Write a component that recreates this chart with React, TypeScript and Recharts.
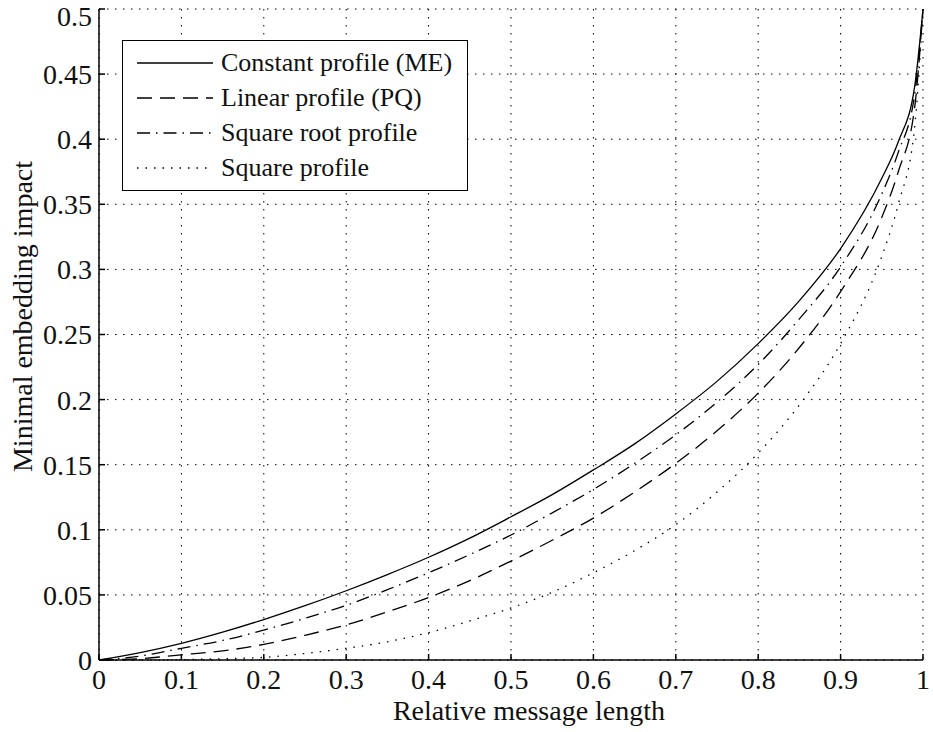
import {
  CartesianGrid,
  Legend,
  Line,
  LineChart,
  XAxis,
  YAxis,
} from "recharts";

// relative message length
const alpha = [
  0, 0.05, 0.1, 0.15, 0.2, 0.25, 0.3, 0.35, 0.4, 0.45, 0.5, 0.55, 0.6, 0.65,
  0.7, 0.75, 0.8, 0.85, 0.9, 0.95, 0.97, 0.99, 1,
];

// minimal embedding impact
const constantME = [
  0, 0.0057, 0.0128, 0.0214, 0.0311, 0.0417, 0.0532, 0.0656, 0.0789, 0.0936,
  0.11, 0.127, 0.146, 0.166, 0.189, 0.214, 0.243, 0.276, 0.316, 0.37, 0.398,
  0.441, 0.5,
];
const linearPQ = [
  0, 0.001, 0.004, 0.007, 0.012, 0.019, 0.027, 0.037, 0.048, 0.061, 0.076,
  0.092, 0.109, 0.129, 0.151, 0.176, 0.205, 0.24, 0.283, 0.34, 0.375, 0.425,
  0.5,
];
const sqrtProfile = [
  0, 0.003, 0.009, 0.015, 0.023, 0.032, 0.042, 0.054, 0.067, 0.081, 0.096,
  0.113, 0.131, 0.151, 0.173, 0.198, 0.227, 0.262, 0.302, 0.358, 0.39, 0.435,
  0.5,
];
const squareProfile = [
  0, 0, 0.0003, 0.001, 0.002, 0.005, 0.009, 0.014, 0.021, 0.03, 0.04, 0.052,
  0.067, 0.084, 0.104, 0.129, 0.159, 0.196, 0.243, 0.31, 0.35, 0.41, 0.5,
];

const xTicks = [0, 0.1, 0.2, 0.3, 0.4, 0.5, 0.6, 0.7, 0.8, 0.9, 1];
const yTicks = [0, 0.05, 0.1, 0.15, 0.2, 0.25, 0.3, 0.35, 0.4, 0.45, 0.5];

const series = [
  { key: "me", name: "Constant profile (ME)", dash: undefined },
  { key: "pq", name: "Linear profile (PQ)", dash: "15 8" },
  { key: "sqrt", name: "Square root profile", dash: "13 6 1.5 6" },
  { key: "sq", name: "Square profile", dash: "1.5 7" },
];

const data = alpha.map((x, i) => ({
  x,
  me: constantME[i],
  pq: linearPQ[i],
  sqrt: sqrtProfile[i],
  sq: squareProfile[i],
}));

const FONT = '"Liberation Serif", "DejaVu Serif", serif';
const fmt = (v: number) => String(v);

function LegendBox() {
  return (
    <div
      style={{
        width: 346,
        height: 151,
        boxSizing: "border-box",
        border: "1.5px solid #000",
        background: "#fff",
        fontFamily: FONT,
        fontSize: 26,
        color: "#111",
        paddingTop: 4,
      }}
    >
      {series.map((s) => (
        <div
          key={s.key}
          style={{ display: "flex", alignItems: "center", height: 35 }}
        >
          <svg width={98} height={20} style={{ flex: "none" }}>
            <line
              x1={14}
              x2={90}
              y1={10}
              y2={10}
              stroke="#000"
              strokeWidth={1.3}
              strokeDasharray={s.dash}
            />
          </svg>
          <span style={{ whiteSpace: "nowrap" }}>{s.name}</span>
        </div>
      ))}
    </div>
  );
}

export default function App() {
  const noLabel = () => <g />;
  return (
    <div style={{ position: "absolute", left: 0, top: 0, fontFamily: FONT }}>
      <LineChart
        width={933}
        height={732}
        data={data}
        margin={{ top: 9, right: 10, bottom: 0, left: 0 }}
      >
        <CartesianGrid
          stroke="#000"
          strokeWidth={1}
          strokeDasharray="1.5 6.5"
          horizontalValues={yTicks}
          verticalValues={xTicks}
        />
        <XAxis
          dataKey="x"
          type="number"
          domain={[0, 1]}
          ticks={xTicks}
          tickFormatter={fmt}
          height={72}
          tickSize={-6}
          tickMargin={15}
          stroke="#000"
          strokeWidth={1.5}
          tick={{ fill: "#111", fontSize: 28, fontFamily: FONT }}
          label={({ viewBox }: any) => (
            <text
              x={viewBox.x + viewBox.width / 2 + 18}
              y={viewBox.y + 60}
              textAnchor="middle"
              fontSize={28}
              fontFamily={FONT}
              fill="#111"
            >
              Relative message length
            </text>
          )}
        />
        <XAxis
          xAxisId="top"
          orientation="top"
          dataKey="x"
          type="number"
          domain={[0, 1]}
          ticks={xTicks}
          height={0}
          tickSize={-6}
          stroke="#000"
          strokeWidth={1.5}
          tick={noLabel}
        />
        <YAxis
          type="number"
          domain={[0, 0.5]}
          ticks={yTicks}
          tickFormatter={fmt}
          width={99}
          tickSize={-6}
          tickMargin={13}
          stroke="#000"
          strokeWidth={1.5}
          tick={{ fill: "#111", fontSize: 28, fontFamily: FONT }}
          label={({ viewBox }: any) => {
            const cx = viewBox.x + 22;
            const cy = viewBox.y + viewBox.height / 2 - 18;
            return (
              <text
                x={cx}
                y={cy}
                transform={`rotate(-90 ${cx} ${cy})`}
                textAnchor="middle"
                dominantBaseline="central"
                fontSize={28}
                fontFamily={FONT}
                fill="#111"
              >
                Minimal embedding impact
              </text>
            );
          }}
        />
        <YAxis
          yAxisId="right"
          orientation="right"
          type="number"
          domain={[0, 0.5]}
          ticks={yTicks}
          width={0}
          tickSize={-6}
          stroke="#000"
          strokeWidth={1.5}
          tick={noLabel}
        />
        {series.map((s) => (
          <Line
            key={s.key}
            dataKey={s.key}
            name={s.name}
            type="monotone"
            stroke="#000"
            strokeWidth={1.3}
            strokeDasharray={s.dash}
            dot={false}
            activeDot={false}
            isAnimationActive={false}
          />
        ))}
        <Legend
          layout="vertical"
          align="center"
          verticalAlign="middle"
          content={() => <LegendBox />}
          wrapperStyle={{ left: 122, top: 40, width: 346, height: 151 }}
        />
      </LineChart>
    </div>
  );
}
